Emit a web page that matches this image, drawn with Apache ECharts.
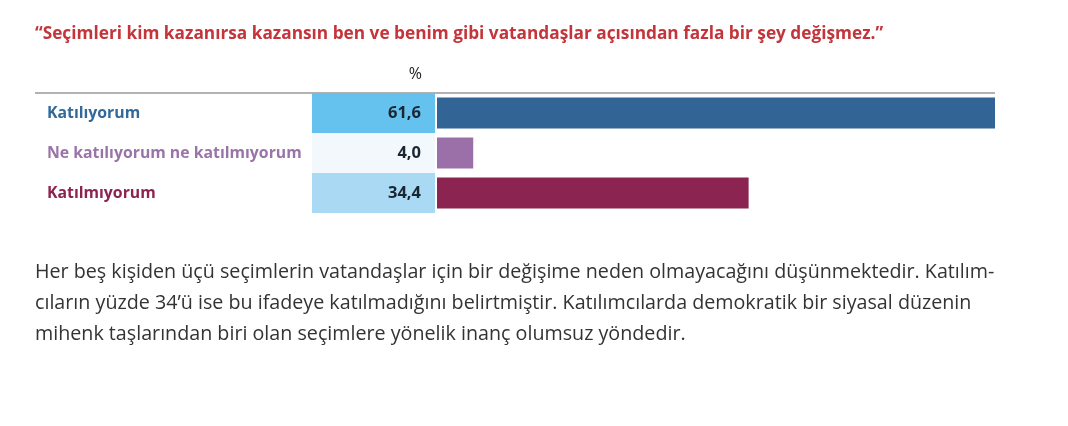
<!DOCTYPE html>
<html><head><meta charset="utf-8">
<script src="https://cdn.jsdelivr.net/npm/echarts@6/dist/echarts.min.js"></script>
<style>html,body{margin:0;padding:0;background:#fff}#c{width:1068px;height:426px}</style>
</head><body><div id="c"></div>
<script>
const title = '“Seçimleri kim kazanırsa kazansın ben ve benim gibi vatandaşlar açısından fazla bir şey değişmez.”';
const unitLabel = '%';
const categories = ['Katılıyorum', 'Ne katılıyorum ne katılmıyorum', 'Katılmıyorum'];
const values = [61.6, 4.0, 34.4];
const valueLabels = ['61,6', '4,0', '34,4'];
const paragraphLines = [
  'Her beş kişiden üçü seçimlerin vatandaşlar için bir değişime neden olmayacağını düşünmektedir. Katılım-',
  'cıların yüzde 34’ü ise bu ifadeye katılmadığını belirtmiştir. Katılımcılarda demokratik bir siyasal düzenin',
  'mihenk taşlarından biri olan seçimlere yönelik inanç olumsuz yöndedir.'
];

const barColors = ['#326596', '#9b70a8', '#8b2450'];
const labelColors = ['#336a99', '#9a74a8', '#8c2350'];
const cellColors = ['#65c2ee', '#f3f8fc', '#aad9f4'];
const FONT = 'Open Sans';

const chart = echarts.init(document.getElementById('c'));
const rich = {};
labelColors.forEach((c, i) => { rich['c' + i] = { color: c, fontFamily: FONT, fontWeight: 'bold', fontSize: 15.8 }; });

chart.setOption({
  animation: false,
  grid: [
    { left: 312, width: 123, top: 93, height: 120 },
    { left: 437, right: 73, top: 93, height: 120 }
  ],
  xAxis: [
    { gridIndex: 0, type: 'value', min: 0, max: 1, show: false },
    { gridIndex: 1, type: 'value', min: 0, max: Math.max(...values), show: false }
  ],
  yAxis: [
    { gridIndex: 0, type: 'category', data: categories, inverse: true,
      axisLine: { show: false }, axisTick: { show: false },
      axisLabel: { align: 'left', margin: 265,
        formatter: (v, i) => '{c' + i + '|' + v + '}', rich: rich } },
    { gridIndex: 1, type: 'category', data: categories, inverse: true, show: false }
  ],
  series: [
    { type: 'bar', xAxisIndex: 0, yAxisIndex: 0, barWidth: '100%',
      data: values.map((v, i) => ({ value: 1, itemStyle: { color: cellColors[i] } })),
      label: { show: true, position: 'insideRight', distance: 14,
        formatter: p => valueLabels[p.dataIndex],
        color: '#1b2633', fontFamily: FONT, fontWeight: 'bold', fontSize: 16.5 } },
    { type: 'bar', xAxisIndex: 1, yAxisIndex: 1, barWidth: 31,
      data: values.map((v, i) => ({ value: v, itemStyle: { color: barColors[i] } })) }
  ],
  graphic: [
    { type: 'text', x: 35, y: 34, style: { text: title, fill: '#c3353a',
      font: 'bold 17.25px "' + FONT + '"', verticalAlign: 'middle' } },
    { type: 'text', x: 422, y: 74, style: { text: unitLabel, fill: '#222',
      font: '16px "' + FONT + '"', align: 'right', verticalAlign: 'middle' } },
    { type: 'line', shape: { x1: 35, y1: 93, x2: 995, y2: 93 }, style: { stroke: '#666', lineWidth: 1.2 } },
    ...paragraphLines.map((t, i) => ({ type: 'text', x: 35, y: 272 + i * 31,
      style: { text: t, fill: '#333', font: '19.7px "' + FONT + '"', verticalAlign: 'middle' } }))
  ]
});
</script></body></html>
